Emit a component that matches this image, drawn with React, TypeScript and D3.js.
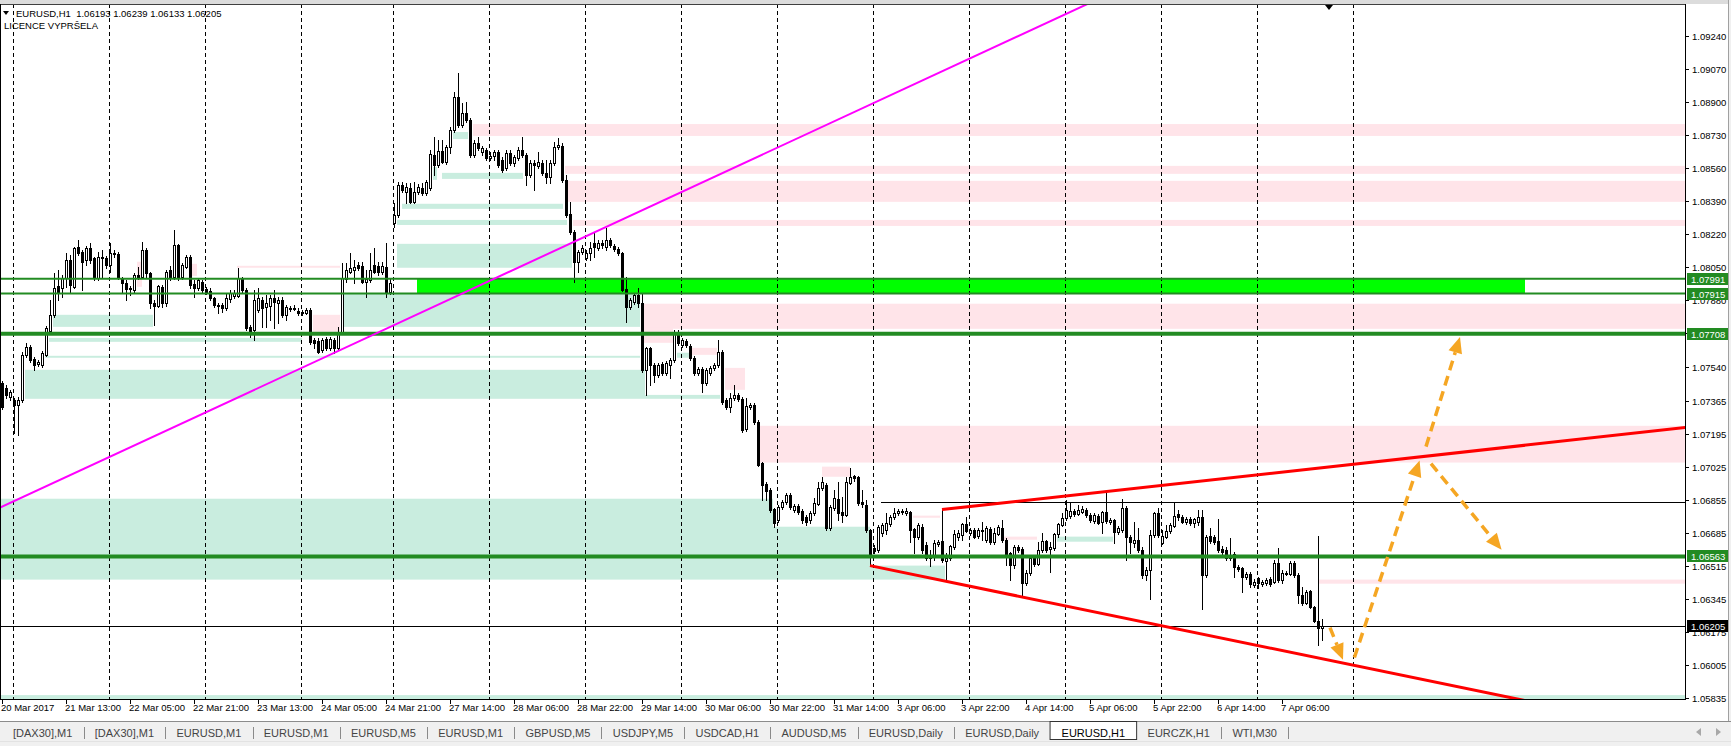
import { useEffect } from 'react';
import * as d3 from 'd3';

// EURUSD H1 candles, 20 Mar 2017 21:00 .. 7 Apr 2017 16:00
const opens = [
  1.07457, 1.07431, 1.07384, 1.07369, 1.07343, 1.07369, 1.076, 1.07641, 1.0758, 1.07554,
  1.07549, 1.076, 1.07724, 1.07806, 1.07955, 1.07944, 1.07996, 1.08089, 1.0795, 1.08155,
  1.0813, 1.08089, 1.0815, 1.08099, 1.07996, 1.08104, 1.08099, 1.08063, 1.08125, 1.0812,
  1.07996, 1.07971, 1.0794, 1.07934, 1.08011, 1.08001, 1.0814, 1.08022, 1.07868, 1.07852,
  1.0795, 1.07868, 1.08037, 1.08001, 1.08165, 1.08001, 1.08053, 1.08104, 1.07965, 1.07945,
  1.07976, 1.0794, 1.07929, 1.07893, 1.07858, 1.07858, 1.07842, 1.07888, 1.07904, 1.07904,
  1.07996, 1.07934, 1.07744, 1.07729, 1.07832, 1.07883, 1.07847, 1.07852, 1.07893, 1.07868,
  1.07883, 1.07806, 1.07842, 1.07837, 1.07827, 1.07817, 1.07817, 1.07832, 1.07677, 1.07672,
  1.07626, 1.07682, 1.07636, 1.07677, 1.07636, 1.07719, 1.07991, 1.08027, 1.08037, 1.08063,
  1.08058, 1.07976, 1.07986, 1.08063, 1.08058, 1.08027, 1.08053, 1.07924, 1.08279, 1.0832,
  1.08474, 1.08438, 1.08459, 1.08387, 1.08438, 1.08459, 1.08433, 1.08459, 1.08629, 1.08577,
  1.08649, 1.08592, 1.0867, 1.08757, 1.08926, 1.08782, 1.08844, 1.08808, 1.08629, 1.0869,
  1.08644, 1.08654, 1.08613, 1.08623, 1.08644, 1.08603, 1.08562, 1.08639, 1.08587, 1.08613,
  1.08654, 1.08629, 1.08526, 1.08587, 1.08572, 1.08587, 1.08536, 1.08515, 1.08587, 1.0867,
  1.08675, 1.085, 1.08325, 1.08233, 1.08079, 1.0813, 1.08099, 1.08125, 1.08176, 1.0815,
  1.08176, 1.08155, 1.08191, 1.0816, 1.08145, 1.08125, 1.0794, 1.07847, 1.07873, 1.07908,
  1.07868, 1.07523, 1.07636, 1.07549, 1.07497, 1.07554, 1.07508, 1.07549, 1.07575, 1.07719,
  1.07651, 1.07672, 1.07646, 1.07585, 1.07508, 1.07528, 1.07457, 1.07508, 1.07534, 1.07549,
  1.07616, 1.07369, 1.07333, 1.07379, 1.07394, 1.07374, 1.0722, 1.07333, 1.07343, 1.07256,
  1.07045, 1.06937, 1.06906, 1.06809, 1.06752, 1.06819, 1.06845, 1.06881, 1.06804, 1.06824,
  1.06798, 1.06768, 1.06752, 1.06788, 1.06834, 1.06917, 1.06932, 1.06711, 1.06814, 1.0686,
  1.06793, 1.06778, 1.06942, 1.06978, 1.06973, 1.06845, 1.06829, 1.06701, 1.06608, 1.06598,
  1.06685, 1.06701, 1.06732, 1.06768, 1.06788, 1.06793, 1.06788, 1.06793, 1.06706, 1.06665,
  1.06716, 1.06624, 1.06562, 1.06562, 1.06629, 1.06644, 1.06542, 1.06557, 1.06613, 1.06665,
  1.06675, 1.06732, 1.06685, 1.06701, 1.0667, 1.06701, 1.06649, 1.06706, 1.06639, 1.0668,
  1.06711, 1.06649, 1.06583, 1.06521, 1.06613, 1.06603, 1.06429, 1.0648, 1.06557, 1.06526,
  1.06598, 1.06644, 1.06603, 1.06608, 1.0668, 1.06727, 1.06763, 1.06773, 1.06798, 1.06783,
  1.06793, 1.06804, 1.06778, 1.06747, 1.06773, 1.06742, 1.06793, 1.06742, 1.06752, 1.0669,
  1.06701, 1.06814, 1.06665, 1.06634, 1.06649, 1.06598, 1.0647, 1.06495, 1.06675, 1.06788,
  1.06634, 1.06665, 1.06696, 1.06721, 1.06783, 1.06768, 1.06742, 1.06757, 1.06737, 1.06742,
  1.06768, 1.0647, 1.0667, 1.06665, 1.06644, 1.06603, 1.06598, 1.06557, 1.06577, 1.06511,
  1.06506, 1.06459, 1.06475, 1.06418, 1.06454, 1.06423, 1.06429, 1.06449, 1.06434, 1.06531,
  1.06444, 1.0648, 1.06475, 1.06531, 1.0647, 1.06367, 1.06326, 1.06387, 1.06305, 1.06233,
  1.06193,
];

const highs = [
  1.07467, 1.07446, 1.0742, 1.07379, 1.07384, 1.07616, 1.07662, 1.07651, 1.0759, 1.07575,
  1.07621, 1.07749, 1.07883, 1.08022, 1.08037, 1.08011, 1.08125, 1.08114, 1.08155, 1.08191,
  1.0814, 1.0816, 1.08176, 1.08104, 1.0813, 1.0814, 1.08109, 1.08176, 1.0814, 1.0813,
  1.08001, 1.07986, 1.07955, 1.08022, 1.08053, 1.08181, 1.0815, 1.08027, 1.07883, 1.0796,
  1.0796, 1.08037, 1.08058, 1.08243, 1.0817, 1.08074, 1.08114, 1.08114, 1.07986, 1.07996,
  1.07986, 1.0795, 1.07945, 1.07898, 1.07868, 1.07868, 1.07919, 1.07934, 1.07934, 1.08048,
  1.08001, 1.07945, 1.07754, 1.07934, 1.07945, 1.07898, 1.07908, 1.07908, 1.07934, 1.07898,
  1.07898, 1.07858, 1.07852, 1.07858, 1.07842, 1.07832, 1.07842, 1.07842, 1.07687, 1.07687,
  1.07687, 1.07692, 1.07692, 1.07687, 1.07744, 1.08074, 1.08074, 1.08125, 1.08089, 1.08079,
  1.08079, 1.08037, 1.08125, 1.0815, 1.08079, 1.08079, 1.08176, 1.07996, 1.08381, 1.0849,
  1.0849, 1.08485, 1.08485, 1.0849, 1.08479, 1.08485, 1.085, 1.08654, 1.08721, 1.08705,
  1.08705, 1.0868, 1.08772, 1.08952, 1.0905, 1.08895, 1.089, 1.08818, 1.08705, 1.08721,
  1.08675, 1.08664, 1.08644, 1.08654, 1.08654, 1.08618, 1.08654, 1.08654, 1.08629, 1.0867,
  1.08721, 1.08639, 1.08603, 1.08603, 1.08644, 1.08603, 1.08603, 1.08603, 1.08695, 1.08716,
  1.0869, 1.08526, 1.08387, 1.08243, 1.0814, 1.08165, 1.0814, 1.08181, 1.08227, 1.08191,
  1.08191, 1.08253, 1.08202, 1.0817, 1.08155, 1.0813, 1.08001, 1.07893, 1.07919, 1.07945,
  1.07919, 1.07641, 1.07641, 1.07559, 1.07559, 1.07565, 1.0757, 1.07585, 1.07729, 1.07729,
  1.07687, 1.07682, 1.07656, 1.07595, 1.07539, 1.07539, 1.07534, 1.07544, 1.07559, 1.07677,
  1.07626, 1.07379, 1.07405, 1.07446, 1.07405, 1.07384, 1.07379, 1.07354, 1.07354, 1.07266,
  1.0705, 1.06947, 1.06917, 1.06814, 1.06829, 1.06855, 1.06891, 1.06891, 1.06834, 1.06834,
  1.06809, 1.06778, 1.06798, 1.06865, 1.06947, 1.06973, 1.06942, 1.06829, 1.06906, 1.06947,
  1.0687, 1.06973, 1.07019, 1.06983, 1.06978, 1.06906, 1.06855, 1.06706, 1.06624, 1.06727,
  1.06737, 1.06788, 1.06778, 1.06814, 1.06809, 1.06809, 1.06814, 1.06798, 1.06711, 1.06737,
  1.06732, 1.06639, 1.06598, 1.06649, 1.06649, 1.06804, 1.06583, 1.06624, 1.06701, 1.06701,
  1.06737, 1.06768, 1.06711, 1.06711, 1.06711, 1.06742, 1.06721, 1.06716, 1.06711, 1.06727,
  1.06752, 1.0666, 1.06588, 1.06624, 1.06624, 1.06613, 1.06495, 1.06562, 1.06572, 1.06639,
  1.06685, 1.06649, 1.06639, 1.06685, 1.06737, 1.06788, 1.06855, 1.0684, 1.06809, 1.06829,
  1.06824, 1.06814, 1.06788, 1.06788, 1.06783, 1.06798, 1.06891, 1.06763, 1.06757, 1.06721,
  1.0686, 1.06824, 1.06675, 1.06742, 1.06711, 1.06613, 1.06511, 1.06701, 1.06793, 1.06814,
  1.06701, 1.06727, 1.06737, 1.06845, 1.06804, 1.06778, 1.06768, 1.06768, 1.06763, 1.06804,
  1.06804, 1.06675, 1.06711, 1.06675, 1.06757, 1.06618, 1.06613, 1.0666, 1.06588, 1.06521,
  1.06511, 1.06485, 1.06485, 1.06449, 1.06459, 1.06444, 1.06454, 1.06459, 1.06547, 1.06608,
  1.06495, 1.0649, 1.06542, 1.06542, 1.0648, 1.06408, 1.06392, 1.06392, 1.0631, 1.0667,
  1.06239,
];

const lows = [
  1.07323, 1.07379, 1.07369, 1.072, 1.07189, 1.07359, 1.0759, 1.07565, 1.07523, 1.07544,
  1.07539, 1.07595, 1.07714, 1.07796, 1.07883, 1.07898, 1.0795, 1.07924, 1.07945, 1.08114,
  1.07934, 1.08063, 1.08074, 1.07986, 1.07986, 1.08001, 1.08048, 1.08027, 1.08104, 1.07991,
  1.07924, 1.07883, 1.07908, 1.07924, 1.07991, 1.07996, 1.08001, 1.07842, 1.07754, 1.07847,
  1.07847, 1.07852, 1.07986, 1.07991, 1.07986, 1.07991, 1.08048, 1.07945, 1.07898, 1.07934,
  1.07924, 1.07914, 1.07883, 1.07847, 1.07816, 1.07822, 1.07832, 1.07873, 1.07893, 1.07898,
  1.07924, 1.07729, 1.07692, 1.07677, 1.07822, 1.07744, 1.07744, 1.0778, 1.07739, 1.07765,
  1.07796, 1.0778, 1.07827, 1.07832, 1.07806, 1.07806, 1.07811, 1.07656, 1.07636, 1.07611,
  1.07616, 1.07626, 1.07626, 1.07611, 1.07626, 1.07714, 1.07976, 1.08022, 1.07971, 1.08037,
  1.07971, 1.07898, 1.07976, 1.08022, 1.08011, 1.08017, 1.07898, 1.07914, 1.08258, 1.0831,
  1.08438, 1.08382, 1.08382, 1.08382, 1.08428, 1.08423, 1.08423, 1.08448, 1.08526, 1.08567,
  1.08587, 1.08582, 1.08639, 1.08746, 1.08772, 1.08772, 1.08798, 1.08618, 1.08618, 1.08654,
  1.08629, 1.08603, 1.08603, 1.08603, 1.08567, 1.08541, 1.08551, 1.08577, 1.08572, 1.08603,
  1.08618, 1.08474, 1.08515, 1.08448, 1.08562, 1.08526, 1.08485, 1.08485, 1.08577, 1.08659,
  1.0849, 1.0831, 1.08222, 1.07976, 1.08027, 1.0812, 1.08089, 1.08089, 1.08104, 1.0814,
  1.0815, 1.0814, 1.08155, 1.08135, 1.08114, 1.07929, 1.0777, 1.07837, 1.07863, 1.07847,
  1.07513, 1.07394, 1.07446, 1.07461, 1.07487, 1.07497, 1.07497, 1.07482, 1.07565, 1.07651,
  1.07641, 1.07641, 1.07575, 1.07497, 1.07497, 1.0741, 1.07446, 1.07497, 1.07523, 1.07539,
  1.07348, 1.07323, 1.07307, 1.07369, 1.07364, 1.07205, 1.0721, 1.07323, 1.07245, 1.0703,
  1.06855, 1.06855, 1.06793, 1.06716, 1.06742, 1.06809, 1.06834, 1.06809, 1.06793, 1.06783,
  1.06737, 1.06727, 1.06737, 1.06778, 1.06829, 1.06906, 1.06701, 1.06701, 1.06804, 1.06752,
  1.06742, 1.06773, 1.06937, 1.06952, 1.06829, 1.06819, 1.0669, 1.06516, 1.06583, 1.06588,
  1.0667, 1.0668, 1.06721, 1.06757, 1.06778, 1.06783, 1.06778, 1.06639, 1.06583, 1.06654,
  1.06583, 1.06547, 1.06516, 1.06547, 1.06618, 1.06536, 1.06444, 1.06547, 1.06603, 1.06649,
  1.06649, 1.0669, 1.06675, 1.0666, 1.0666, 1.06649, 1.06639, 1.06629, 1.06629, 1.06675,
  1.06639, 1.06521, 1.06444, 1.06506, 1.06588, 1.06367, 1.06418, 1.0647, 1.06516, 1.06521,
  1.06588, 1.06588, 1.06485, 1.06598, 1.06665, 1.06721, 1.06752, 1.06763, 1.06773, 1.06778,
  1.06788, 1.06768, 1.06742, 1.06737, 1.06732, 1.06685, 1.06737, 1.06732, 1.06634, 1.0668,
  1.0669, 1.06547, 1.06583, 1.06613, 1.06588, 1.06454, 1.06444, 1.06346, 1.06665, 1.06665,
  1.06629, 1.0666, 1.06685, 1.06716, 1.06752, 1.06737, 1.06732, 1.06727, 1.06716, 1.06727,
  1.06295, 1.06459, 1.06634, 1.06629, 1.06588, 1.06572, 1.06547, 1.06547, 1.06459, 1.0649,
  1.06382, 1.06449, 1.06408, 1.06408, 1.06403, 1.06413, 1.06418, 1.06413, 1.06429, 1.06434,
  1.06429, 1.0647, 1.0647, 1.06459, 1.06326, 1.06315, 1.06321, 1.063, 1.06228, 1.0611,
  1.06133,
];

const closes = [
  1.07333, 1.07394, 1.0741, 1.07343, 1.07369, 1.076, 1.07641, 1.07575, 1.07549, 1.07565,
  1.07611, 1.07739, 1.07806, 1.07944, 1.07924, 1.07996, 1.08089, 1.0796, 1.0815, 1.08125,
  1.08079, 1.0815, 1.08089, 1.07996, 1.08104, 1.08099, 1.08063, 1.08125, 1.0812, 1.08001,
  1.07971, 1.0794, 1.07945, 1.08011, 1.08001, 1.0814, 1.08022, 1.07868, 1.07852, 1.07955,
  1.07868, 1.08027, 1.07996, 1.08165, 1.08001, 1.08063, 1.08104, 1.0796, 1.07945, 1.07986,
  1.07934, 1.07924, 1.07893, 1.07858, 1.07852, 1.07842, 1.07893, 1.07919, 1.07919, 1.07996,
  1.07934, 1.07739, 1.07719, 1.07883, 1.07893, 1.07842, 1.07868, 1.07893, 1.07873, 1.07883,
  1.07806, 1.07847, 1.07837, 1.07842, 1.07817, 1.07822, 1.07832, 1.07667, 1.07662, 1.07616,
  1.07677, 1.07636, 1.07682, 1.07636, 1.07719, 1.07996, 1.08037, 1.08048, 1.08053, 1.08048,
  1.07976, 1.07991, 1.08037, 1.08027, 1.08027, 1.08058, 1.07924, 1.07971, 1.0832, 1.08474,
  1.08448, 1.08464, 1.08387, 1.08438, 1.08464, 1.08433, 1.0849, 1.08634, 1.08577, 1.08649,
  1.08592, 1.0867, 1.08757, 1.08926, 1.08782, 1.08844, 1.08808, 1.08629, 1.0869, 1.08664,
  1.08664, 1.08613, 1.08623, 1.08644, 1.08577, 1.08551, 1.08639, 1.08587, 1.08618, 1.08654,
  1.08629, 1.08526, 1.08587, 1.08577, 1.08592, 1.08536, 1.08515, 1.08587, 1.0867, 1.0868,
  1.085, 1.0832, 1.08233, 1.08079, 1.0813, 1.0815, 1.08125, 1.0815, 1.08155, 1.08176,
  1.08165, 1.08191, 1.08165, 1.08145, 1.08125, 1.07934, 1.07847, 1.07883, 1.07908, 1.07868,
  1.07523, 1.07636, 1.07549, 1.07497, 1.07549, 1.07508, 1.07559, 1.07575, 1.07719, 1.07662,
  1.07677, 1.07651, 1.07585, 1.07508, 1.07528, 1.07457, 1.07523, 1.07534, 1.07549, 1.07616,
  1.07359, 1.07333, 1.07379, 1.07394, 1.07374, 1.07215, 1.07338, 1.07343, 1.07256, 1.07035,
  1.06932, 1.06901, 1.06804, 1.06737, 1.06819, 1.06845, 1.06881, 1.06819, 1.06824, 1.06793,
  1.06752, 1.06742, 1.06788, 1.0684, 1.06917, 1.06947, 1.06711, 1.06819, 1.06865, 1.06788,
  1.06778, 1.06947, 1.06973, 1.06968, 1.0684, 1.06834, 1.06701, 1.06572, 1.06593, 1.06716,
  1.06727, 1.06737, 1.06768, 1.06788, 1.06798, 1.06798, 1.06798, 1.06701, 1.06665, 1.06727,
  1.06598, 1.06557, 1.06557, 1.06634, 1.06639, 1.06547, 1.06557, 1.06618, 1.0668, 1.06685,
  1.06732, 1.06696, 1.06701, 1.06665, 1.06701, 1.06696, 1.06711, 1.06639, 1.06685, 1.06716,
  1.06649, 1.06572, 1.06521, 1.06613, 1.06598, 1.06429, 1.0648, 1.06557, 1.06526, 1.06598,
  1.06644, 1.06598, 1.06613, 1.0668, 1.06732, 1.06763, 1.06804, 1.06798, 1.06783, 1.06804,
  1.06809, 1.06778, 1.06752, 1.06778, 1.06737, 1.06793, 1.06747, 1.06752, 1.0669, 1.06711,
  1.06814, 1.06665, 1.06639, 1.06649, 1.06598, 1.0647, 1.06495, 1.06675, 1.06788, 1.06675,
  1.0667, 1.06696, 1.06727, 1.06773, 1.06768, 1.06742, 1.06757, 1.06737, 1.06757, 1.06768,
  1.0647, 1.06665, 1.06644, 1.06639, 1.06598, 1.06588, 1.06557, 1.06572, 1.06511, 1.065,
  1.06459, 1.06475, 1.06423, 1.06434, 1.06429, 1.06434, 1.06444, 1.06423, 1.06531, 1.06444,
  1.0648, 1.06475, 1.06531, 1.0647, 1.06367, 1.06326, 1.06382, 1.06305, 1.06233, 1.06197,
  1.06205,
];

// time axis: one label every 16 bars
const timeLabels = [
  '20 Mar 2017', '21 Mar 13:00', '22 Mar 05:00', '22 Mar 21:00', '23 Mar 13:00', '24 Mar 05:00',
  '24 Mar 21:00', '27 Mar 14:00', '28 Mar 06:00', '28 Mar 22:00', '29 Mar 14:00', '30 Mar 06:00',
  '30 Mar 22:00', '31 Mar 14:00', '3 Apr 06:00', '3 Apr 22:00', '4 Apr 14:00', '5 Apr 06:00',
  '5 Apr 22:00', '6 Apr 14:00', '7 Apr 06:00',
];
const LABEL_EVERY = 16;
// bars where a new day starts (period separators)
const daySeparatorBars = [3, 27, 51, 75, 98, 122, 146, 170, 194, 218, 242, 266, 290, 314, 338];

const priceTicks = [
  1.0924, 1.0907, 1.089, 1.0873, 1.0856, 1.0839, 1.0822, 1.0805, 1.0788, 1.0771, 1.0754,
  1.07365, 1.07195, 1.07025, 1.06855, 1.06685, 1.06515, 1.06345, 1.06175, 1.06005, 1.05835,
];

// horizontal levels
const thinLevels = [1.07991, 1.07915];
const thickLevels = [1.07708, 1.06563];
const bidPrice = 1.06205;
const rangeTop = { bar: 219.75, price: 1.06845 };

// zones: [startBar, endBar, upper, lower]
const supplyZones: [number, number, number, number][] = [
  [117.75, 999, 1.08787, 1.08726],
  [140.75, 999, 1.08572, 1.08531],
  [141.5, 999, 1.08495, 1.08387],
  [142.75, 999, 1.08294, 1.08263],
  [160.25, 999, 1.07863, 1.07734],
  [189.5, 999, 1.07235, 1.07046],
  [329.25, 999, 1.06444, 1.06423],
  [58.75, 84.5, 1.08058, 1.08048],
  [33.75, 35, 1.08079, 1.0795],
  [47.5, 48.75, 1.08068, 1.08006],
  [77.75, 84.5, 1.07806, 1.07719],
  [160.25, 167.75, 1.07739, 1.07662],
  [172.5, 178.75, 1.07636, 1.076],
  [180.75, 185.75, 1.07533, 1.0742],
  [205, 212, 1.07025, 1.06973],
  [227.75, 234.5, 1.06773, 1.06762],
  [250.25, 258.75, 1.06665, 1.06649],
];
const demandZones: [number, number, number, number][] = [
  [112.75, 116.5, 1.08746, 1.0871],
  [110, 130.25, 1.08536, 1.08505],
  [107.75, 108.75, 1.08567, 1.085],
  [100, 140.25, 1.08377, 1.08351],
  [98.75, 141.25, 1.08294, 1.08268],
  [98.75, 142.5, 1.08171, 1.08048],
  [85.25, 159.5, 1.07914, 1.07744],
  [12.75, 37.75, 1.07806, 1.07744],
  [11.75, 75, 1.07687, 1.07667],
  [10.75, 159.5, 1.07595, 1.07585],
  [5.75, 160.75, 1.07523, 1.07374],
  [160.75, 179.5, 1.07394, 1.07374],
  [168.75, 172, 1.07611, 1.07585],
  [-2, 192.75, 1.0686, 1.06444],
  [192.75, 217, 1.06716, 1.06444],
  [217, 235.75, 1.06516, 1.06444],
  [263.75, 277.75, 1.06665, 1.06639],
  [-2, 999, 1.0585, 1.058],
];
const brightZone: [number, number, number, number] = [103.75, 380.75, 1.07991, 1.07915];

// trend lines: two anchors [bar, price]
const magentaLine: [number, number][] = [[0, 1.06819], [250, 1.09201]];
const upperRedLine: [number, number][] = [[235, 1.06804], [334.5, 1.0703]];
const lowerRedLine: [number, number][] = [[217, 1.06516], [380, 1.05825]];

// scenario arrows: [fromBar, fromPrice, toBar, toPrice]
const arrows: [number, number, number, number][] = [
  [332, 1.06197, 335.25, 1.06032],
  [338.1, 1.06043, 354.4, 1.07056],
  [356, 1.07128, 364.5, 1.07692],
  [357.25, 1.0704, 374.9, 1.06598],
];

const tabs = [
  '[DAX30],M1', '[DAX30],M1', 'EURUSD,M1', 'EURUSD,M1', 'EURUSD,M5', 'EURUSD,M1', 'GBPUSD,M5',
  'USDJPY,M5', 'USDCAD,H1', 'AUDUSD,M5', 'EURUSD,Daily', 'EURUSD,Daily', 'EURUSD,H1', 'EURCZK,H1',
  'WTI,M30',
];
const SELECTED_TAB = 12;

const W = 1731;
const H = 746;
const PLOT = { left: 0, right: 1685, top: 4, bottom: 699 };
const FONT = "'Liberation Sans', Arial, sans-serif";
const GREEN = '#228b22';
const ORANGE = '#f5a623';

function measure(text: string, font: string): number {
  const ctx = document.createElement('canvas').getContext('2d');
  if (!ctx) return text.length * 6;
  ctx.font = font;
  return ctx.measureText(text).width;
}

export default function App() {
  useEffect(() => {
    document.body.style.margin = '0';
  }, []);

  const x = d3.scaleLinear().domain([0, 1]).range([2, 6]);
  const y = d3.scaleLinear().domain([1.05835, 1.0924]).range([698, 36]);
  const fmt = d3.format('.5f');
  const last = closes.length - 1;

  const ray = (pts: [number, number][], fromX?: number) => {
    const x1 = x(pts[0][0]);
    const y1 = y(pts[0][1]);
    const k = (y(pts[1][1]) - y1) / (x(pts[1][0]) - x1);
    const sx = fromX ?? x1;
    const ex = PLOT.right + 20;
    return { x1: sx, y1: y1 + k * (sx - x1), x2: ex, y2: y1 + k * (ex - x1) };
  };

  const zoneRect = (z: [number, number, number, number], fill: string, key: string) => (
    <rect
      key={key}
      x={x(z[0])}
      y={y(z[2])}
      width={x(z[1]) - x(z[0])}
      height={Math.max(1, y(z[3]) - y(z[2]))}
      fill={fill}
    />
  );

  // tab layout: widths from the font, gaps spread between first and last tab
  const tabFont = `11px ${FONT}`;
  const tabWidths = tabs.map((t) => measure(t, tabFont));
  const tabStart = 13;
  const tabEnd = 1277;
  const gap = (tabEnd - tabStart - d3.sum(tabWidths)) / (tabs.length - 1);
  const tabX: number[] = [];
  tabWidths.reduce((acc, w) => {
    tabX.push(acc);
    return acc + w + gap;
  }, tabStart);

  const redA = ray(upperRedLine);
  const redB = ray(lowerRedLine);
  const mag = ray(magentaLine, -10);
  const rangeY = Math.round(y(rangeTop.price)) + 0.5;
  const bidY = Math.round(y(bidPrice)) + 0.5;

  return (
    <svg
      width={W}
      height={H}
      viewBox={`0 0 ${W} ${H}`}
      style={{ position: 'absolute', left: 0, top: 0, display: 'block', background: '#fff' }}
      fontFamily={FONT}
    >
      <defs>
        <clipPath id="plotClip">
          <rect x={1} y={PLOT.top + 1} width={PLOT.right - 1} height={PLOT.bottom - PLOT.top - 1} />
        </clipPath>
      </defs>

      {/* window chrome top */}
      <rect x={0} y={0} width={W} height={PLOT.top} fill="#dcdcdc" />

      <g clipPath="url(#plotClip)">
        {supplyZones.map((z, i) => zoneRect(z, '#ffe4e9', `s${i}`))}
        {demandZones.map((z, i) => zoneRect(z, '#c9eddf', `d${i}`))}
        {zoneRect(brightZone, '#00ff00', 'bright')}

        {/* period separators */}
        {daySeparatorBars.map((b) => (
          <line
            key={b}
            x1={Math.round(x(b)) - 0.5}
            x2={Math.round(x(b)) - 0.5}
            y1={PLOT.top}
            y2={PLOT.bottom}
            stroke="#000"
            strokeDasharray="4,3"
          />
        ))}

        {/* candles */}
        <g shapeRendering="crispEdges">
          {closes.map((c, i) => {
            const o = opens[i];
            const cx = Math.round(x(i));
            const yh = Math.round(y(highs[i]));
            const yl = Math.round(y(lows[i]));
            const yo = Math.round(y(o));
            const yc = Math.round(y(c));
            const top = Math.min(yo, yc);
            const bot = Math.max(yo, yc);
            const bull = c > o && bot - top >= 2;
            return (
              <g key={i}>
                <line x1={cx + 0.5} x2={cx + 0.5} y1={yh} y2={yl + 1} stroke="#000" />
                {bull ? (
                  <rect x={cx - 0.5} y={top + 0.5} width={2} height={bot - top} fill="#fff" stroke="#000" />
                ) : (
                  <rect x={cx - 1} y={top} width={3} height={bot - top + 1} fill="#000" />
                )}
              </g>
            );
          })}
        </g>

        {/* horizontal levels */}
        {thinLevels.map((p) => (
          <line key={p} x1={0} x2={PLOT.right} y1={y(p)} y2={y(p)} stroke={GREEN} strokeWidth={2} />
        ))}
        {thickLevels.map((p) => (
          <line key={p} x1={0} x2={PLOT.right} y1={y(p)} y2={y(p)} stroke={GREEN} strokeWidth={4} />
        ))}
        <line x1={x(rangeTop.bar)} x2={PLOT.right} y1={rangeY} y2={rangeY} stroke="#000" />
        <line x1={0} x2={PLOT.right} y1={bidY} y2={bidY} stroke="#000" />

        {/* trend lines */}
        <line {...mag} stroke="#ff00ff" strokeWidth={2} />
        <line {...redA} stroke="#ff0000" strokeWidth={3} />
        <line {...redB} stroke="#ff0000" strokeWidth={3} />

        {/* scenario arrows */}
        {arrows.map((a, i) => {
          const x1 = x(a[0]);
          const y1 = y(a[1]);
          const x2 = x(a[2]);
          const y2 = y(a[3]);
          const len = Math.hypot(x2 - x1, y2 - y1);
          const ux = (x2 - x1) / len;
          const uy = (y2 - y1) / len;
          const hl = 16;
          const hw = 7;
          const bx = x2 - ux * hl;
          const by = y2 - uy * hl;
          const head = [
            [x2, y2],
            [bx - uy * hw, by + ux * hw],
            [bx + uy * hw, by - ux * hw],
          ];
          return (
            <g key={i}>
              <line x1={x1} y1={y1} x2={bx} y2={by} stroke={ORANGE} strokeWidth={3.5} strokeDasharray="10,6" />
              <polygon points={head.map((p) => p.join(',')).join(' ')} fill={ORANGE} />
            </g>
          );
        })}
      </g>

      {/* chart shift marker */}
      <polygon
        points={`${x(331.75) - 4},${PLOT.top + 1} ${x(331.75) + 4},${PLOT.top + 1} ${x(331.75)},${PLOT.top + 6}`}
        fill="#000"
      />

      {/* frame */}
      <g shapeRendering="crispEdges" stroke="#000" fill="none">
        <line x1={0} x2={PLOT.right + 0.5} y1={PLOT.top + 0.5} y2={PLOT.top + 0.5} stroke="#404040" />
        <line x1={0.5} x2={0.5} y1={PLOT.top} y2={PLOT.bottom} />
        <line x1={PLOT.right + 0.5} x2={PLOT.right + 0.5} y1={PLOT.top} y2={PLOT.bottom + 1} />
        <line x1={0} x2={PLOT.right + 1} y1={PLOT.bottom + 0.5} y2={PLOT.bottom + 0.5} />
      </g>

      {/* price axis */}
      <g fontSize={9.5} fill="#000">
        {priceTicks.map((p) => {
          const ty = Math.round(y(p)) + 0.5;
          return (
            <g key={p}>
              <line x1={PLOT.right} x2={PLOT.right + 4} y1={ty} y2={ty} stroke="#000" />
              <text x={1692} y={ty + 3.5}>
                {fmt(p)}
              </text>
            </g>
          );
        })}
        {[...thinLevels, ...thickLevels].map((p) => {
          const ty = Math.round(y(p));
          return (
            <g key={`b${p}`}>
              <rect x={1687} y={ty - 6} width={42} height={12} fill={GREEN} />
              <text x={1691} y={ty + 3.5} fill="#fff">
                {fmt(p)}
              </text>
            </g>
          );
        })}
        <rect x={1687} y={Math.round(y(bidPrice)) - 6} width={42} height={12} fill="#000" />
        <text x={1691} y={Math.round(y(bidPrice)) + 3.5} fill="#fff">
          {fmt(bidPrice)}
        </text>
      </g>

      {/* time axis */}
      <g fontSize={9.5} fill="#000">
        {timeLabels.map((t, i) => {
          const tx = Math.round(x(i * LABEL_EVERY));
          return (
            <g key={t}>
              <line x1={tx + 0.5} x2={tx + 0.5} y1={PLOT.bottom} y2={PLOT.bottom + 5} stroke="#000" />
              <text x={tx - 1} y={711}>
                {t}
              </text>
            </g>
          );
        })}
      </g>

      {/* header */}
      <polygon points="3,11 9,11 6,15" fill="#000" />
      <text x={16} y={17} fontSize={9.5} fill="#000" style={{ whiteSpace: 'pre' }}>
        {`EURUSD,H1  ${fmt(opens[last])} ${fmt(highs[last])} ${fmt(lows[last])} ${fmt(closes[last])}`}
      </text>
      <text x={4} y={29} fontSize={9.5} fill="#000">
        LICENCE VYPRŠELA
      </text>

      {/* right window border */}
      <rect x={1728} y={0} width={3} height={721} fill="#f0f0f0" />
      <line x1={1728.5} x2={1728.5} y1={0} y2={721} stroke="#a0a0a0" />

      {/* tab bar */}
      <rect x={0} y={721} width={W} height={25} fill="#f0f0f0" />
      <line x1={0} x2={W} y1={721.5} y2={721.5} stroke="#8c8c8c" />
      <line x1={0} x2={W} y1={741.5} y2={741.5} stroke="#e2e2e2" />
      {tabs.map((t, i) => {
        const tx = tabX[i];
        const w = tabWidths[i];
        const selected = i === SELECTED_TAB;
        const showSep = i !== SELECTED_TAB && i + 1 !== SELECTED_TAB;
        return (
          <g key={i}>
            {selected && (
              <rect x={tx - 11.5} y={721.5} width={w + 23} height={18} fill="#fff" stroke="#333" />
            )}
            <text x={tx} y={737} fontSize={11} fill={selected ? '#000' : '#444'}>
              {t}
            </text>
            {showSep && (
              <line
                x1={Math.round(tx + w + gap / 2) + 0.5}
                x2={Math.round(tx + w + gap / 2) + 0.5}
                y1={727}
                y2={739}
                stroke="#8a8a8a"
              />
            )}
          </g>
        );
      })}
      <polygon points="1696,732 1701,728 1701,736" fill="#a8a8a8" />
      <polygon points="1721,732 1716,728 1716,736" fill="#a8a8a8" />
    </svg>
  );
}
